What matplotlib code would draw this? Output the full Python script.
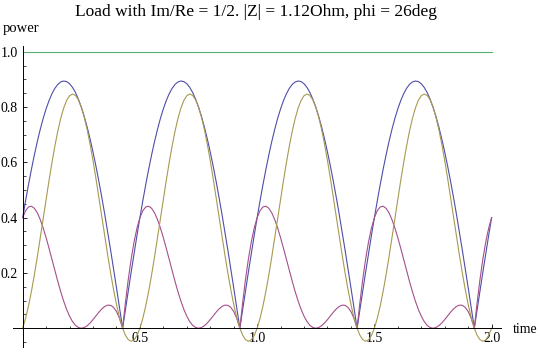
import numpy as np
import matplotlib
matplotlib.use("Agg")
import matplotlib.pyplot as plt
from matplotlib.ticker import FixedLocator, NullFormatter

# ---------------- data ----------------
title = "Load with Im/Re = 1/2. |Z| = 1.12Ohm, phi = 26deg"
x_label = "time"
y_label = "power"

period = 0.5          # curves repeat every 0.5 time units
n_periods = 4

# one period of samples
t_period = [0.0, 0.0125, 0.025, 0.0375, 0.05, 0.0625, 0.075, 0.0875, 0.1, 0.1125,
            0.125, 0.1375, 0.15, 0.1625, 0.175, 0.1875, 0.2, 0.2125, 0.225, 0.2375,
            0.25, 0.2625, 0.275, 0.2875, 0.3, 0.3125, 0.325, 0.3375, 0.35, 0.3625,
            0.375, 0.3875, 0.4, 0.4125, 0.425, 0.4262, 0.4375, 0.45, 0.4625, 0.475,
            0.4875]

blue_period = [0.4, 0.4615, 0.5202, 0.5757, 0.6276, 0.6757, 0.7196, 0.7591, 0.7938, 0.8237,
               0.8485, 0.8681, 0.8823, 0.8911, 0.8944, 0.8922, 0.8845, 0.8713, 0.8527, 0.8289,
               0.8, 0.7662, 0.7276, 0.6845, 0.6372, 0.5860, 0.5312, 0.4731, 0.4121, 0.3486,
               0.2828, 0.2154, 0.1466, 0.0769, 0.0068, 0.0, 0.0634, 0.1332, 0.2022, 0.2699,
               0.3360]

purple_period = [0.4, 0.4253, 0.4388, 0.4413, 0.4337, 0.4171, 0.3929, 0.3625, 0.3272, 0.2888,
                 0.2485, 0.2080, 0.1685, 0.1313, 0.0975, 0.0679, 0.0433, 0.0241, 0.0105, 0.0026,
                 0.0, 0.0024, 0.0090, 0.0189, 0.0312, 0.0446, 0.0579, 0.0697, 0.0787, 0.0835,
                 0.0828, 0.0755, 0.0604, 0.0367, 0.0037, 0.0, 0.0877, 0.1744, 0.2494, 0.3122,
                 0.3624]

golden_period = [0.0, 0.0362, 0.0814, 0.1344, 0.1940, 0.2586, 0.3267, 0.3966, 0.4666, 0.5350,
                 0.6, 0.6601, 0.7138, 0.7598, 0.7969, 0.8243, 0.8412, 0.8472, 0.8422, 0.8264,
                 0.8, 0.7638, 0.7186, 0.6656, 0.6061, 0.5414, 0.4733, 0.4034, 0.3334, 0.2650,
                 0.2000, 0.1399, 0.0862, 0.0402, 0.0031, 0.0, -0.0243, -0.0412, -0.0472, -0.0422,
                 -0.0264]

green_t = [0.0, 2.0]
green_values = [1.0, 1.0]

x_major = [0.5, 1.0, 1.5, 2.0]
x_major_labels = ["0.5", "1.0", "1.5", "2.0"]
y_major = [0.2, 0.4, 0.6, 0.8, 1.0]
y_major_labels = ["0.2", "0.4", "0.6", "0.8", "1.0"]

# ---------------- build full series ----------------
t_full = np.concatenate([np.array(t_period) + k * period for k in range(n_periods)]
                        + [[n_periods * period]])

def full(series):
    return np.concatenate([np.array(series)] * n_periods + [[series[0]]])

blue = full(blue_period)
purple = full(purple_period)
golden = full(golden_period)

# ---------------- figure ----------------
W, H = 540, 352
fig = plt.figure(figsize=(W / 100, H / 100), dpi=100)
fig.patch.set_facecolor("white")

ax_left, ax_right = 13.3, 501.0
ax_top, ax_bottom = 46.0, 347.0
ax = fig.add_axes([ax_left / W, (H - ax_bottom) / H,
                   (ax_right - ax_left) / W, (ax_bottom - ax_top) / H])
ax.set_xlim(-0.04, 2.04)
ax.set_ylim(-0.068, 1.021)

serif = ["Liberation Serif", "DejaVu Serif"]

lw = 0.8
ax.plot(t_full, blue, color="#4E4EAA", lw=lw, solid_joinstyle="round")
ax.plot(t_full, purple, color="#A4508A", lw=lw, solid_joinstyle="round")
ax.plot(t_full, golden, color="#A89A50", lw=lw, solid_joinstyle="round")
ax.plot(green_t, green_values, color="#58B070", lw=lw)

for s in ["top", "right"]:
    ax.spines[s].set_visible(False)
ax.spines["left"].set_position(("data", 0))
ax.spines["bottom"].set_position(("data", 0))
for s in ["left", "bottom"]:
    ax.spines[s].set_linewidth(0.7)
    ax.spines[s].set_color("black")

ax.xaxis.set_major_locator(FixedLocator(x_major))
ax.set_xticklabels(x_major_labels)
ax.yaxis.set_major_locator(FixedLocator(y_major))
ax.set_yticklabels(y_major_labels)

x_minor = [k / 10 for k in range(1, 21) if k % 5 != 0]
y_minor = [-0.05] + [k / 20 for k in range(1, 21) if k % 4 != 0]
ax.xaxis.set_minor_locator(FixedLocator(x_minor))
ax.yaxis.set_minor_locator(FixedLocator(y_minor))
ax.xaxis.set_minor_formatter(NullFormatter())
ax.yaxis.set_minor_formatter(NullFormatter())

ax.tick_params(which="major", direction="in", length=3.0, width=0.6, colors="black",
               labelsize=10)
ax.tick_params(which="minor", direction="in", length=1.8, width=0.5, colors="black")
ax.tick_params(axis="y", which="major", pad=3.5)
ax.tick_params(axis="x", which="major", pad=3.0)
for lab in ax.get_xticklabels() + ax.get_yticklabels():
    lab.set_family(serif)

ax.patch.set_alpha(0)

fig.text(256 / W, 1 - 15.5 / H, title, ha="center", va="baseline", fontsize=12.5,
         family=serif)
fig.text(3 / W, 1 - 32 / H, y_label, ha="left", va="baseline", fontsize=10.5, family=serif)
fig.text(513 / W, 1 - 332.7 / H, x_label, ha="left", va="baseline", fontsize=10,
         family=serif)

fig.savefig("out.png", dpi=100)
